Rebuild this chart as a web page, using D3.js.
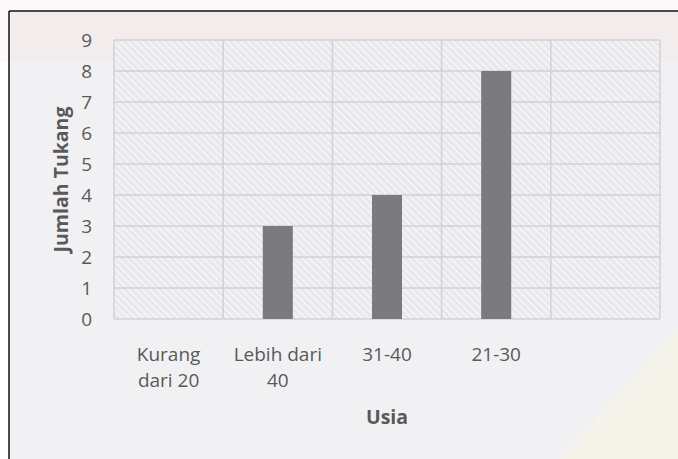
<!DOCTYPE html>
<html>
<head>
<meta charset="utf-8">
<script src="https://cdn.jsdelivr.net/npm/d3@7"></script>
<style>
  body { margin: 0; background: #fff; }
  text { font-family: "Open Sans", "Liberation Sans", sans-serif; }
</style>
</head>
<body>
<div id="chart"></div>
<script>
// data
const categories = ["Kurang dari 20", "Lebih dari 40", "31-40", "21-30", ""];
const labelLines = [["Kurang", "dari 20"], ["Lebih dari", "40"], ["31-40"], ["21-30"], []];
const values = [0, 3, 4, 8, null];
const yTicks = [0, 1, 2, 3, 4, 5, 6, 7, 8, 9];

const width = 678, height = 459;
const plot = { left: 114, top: 40, right: 660, bottom: 319 };

const svg = d3.select("#chart").append("svg")
    .attr("width", width)
    .attr("height", height);

// hatch pattern for the plot area
const defs = svg.append("defs");
const pat = defs.append("pattern")
    .attr("id", "hatch")
    .attr("patternUnits", "userSpaceOnUse")
    .attr("width", 5).attr("height", 5)
    .attr("patternTransform", "rotate(-45)");
pat.append("rect").attr("width", 5).attr("height", 5).attr("fill", "#e8e8ec");
pat.append("rect").attr("width", 2.2).attr("height", 5).attr("fill", "#f4f4f6");

// chart area background + faint watermark tint
svg.append("rect").attr("x", 9).attr("y", 11).attr("width", width).attr("height", height)
    .attr("fill", "#f1f1f3");
svg.append("rect").attr("x", 0).attr("y", 0).attr("width", width).attr("height", 62)
    .attr("fill", "#f7d0d0").attr("opacity", 0.15);
svg.append("path")
    .attr("d", "M560,459 L678,330 L678,459 Z")
    .attr("fill", "#fbf6e0").attr("opacity", 0.45);

// border (only top and left visible)
svg.append("line").attr("x1", 9).attr("x2", width).attr("y1", 11).attr("y2", 11)
    .attr("stroke", "#111").attr("stroke-width", 1.5);
svg.append("line").attr("x1", 9).attr("x2", 9).attr("y1", 11).attr("y2", height)
    .attr("stroke", "#111").attr("stroke-width", 1.5);

const x = d3.scaleBand()
    .domain(categories.map((c, i) => i))
    .range([plot.left, plot.right])
    .paddingInner(0).paddingOuter(0);

const y = d3.scaleLinear()
    .domain([0, 9])
    .range([plot.bottom, plot.top]);

// plot area
svg.append("rect")
    .attr("x", plot.left).attr("y", plot.top)
    .attr("width", plot.right - plot.left).attr("height", plot.bottom - plot.top)
    .attr("fill", "url(#hatch)");

// horizontal gridlines
svg.append("g").selectAll("line")
    .data(yTicks)
    .join("line")
    .attr("x1", plot.left).attr("x2", plot.right)
    .attr("y1", d => y(d)).attr("y2", d => y(d))
    .attr("stroke", "#d2d2d6").attr("stroke-width", 1.5);

// vertical gridlines at category boundaries
const bounds = categories.map((c, i) => x(i)).concat([plot.right]);
svg.append("g").selectAll("line")
    .data(bounds)
    .join("line")
    .attr("x1", d => d).attr("x2", d => d)
    .attr("y1", plot.top).attr("y2", plot.bottom)
    .attr("stroke", "#d2d2d6").attr("stroke-width", 1.5);

// bars
const barW = x.bandwidth() * 0.275;
svg.append("g").selectAll("rect")
    .data(values.map((v, i) => ({ v, i })).filter(d => d.v))
    .join("rect")
    .attr("x", d => x(d.i) + x.bandwidth() / 2 - barW / 2)
    .attr("y", d => y(d.v))
    .attr("width", barW)
    .attr("height", d => y(0) - y(d.v))
    .attr("fill", "#7b7b7d");

// y tick labels
svg.append("g").selectAll("text")
    .data(yTicks)
    .join("text")
    .attr("x", 92)
    .attr("y", d => y(d))
    .attr("dy", "0.36em")
    .attr("text-anchor", "end")
    .attr("font-size", 19)
    .attr("fill", "#595959")
    .text(d => d);

// x tick labels
const xl = svg.append("g").selectAll("text")
    .data(labelLines)
    .join("text")
    .attr("text-anchor", "middle")
    .attr("font-size", 19)
    .attr("fill", "#595959");
xl.selectAll("tspan")
    .data((d, i) => d.map(t => ({ t, i })))
    .join("tspan")
    .attr("x", d => x(d.i) + x.bandwidth() / 2)
    .attr("y", (d, j) => 361 + j * 26)
    .text(d => d.t);

// axis titles
svg.append("text")
    .attr("transform", `translate(68, ${(plot.top + plot.bottom) / 2}) rotate(-90)`)
    .attr("text-anchor", "middle")
    .attr("font-size", 19.5)
    .attr("font-weight", "bold")
    .attr("fill", "#595959")
    .text("Jumlah Tukang");

svg.append("text")
    .attr("x", (plot.left + plot.right) / 2)
    .attr("y", 424)
    .attr("text-anchor", "middle")
    .attr("font-size", 19.5)
    .attr("font-weight", "bold")
    .attr("fill", "#595959")
    .text("Usia");
</script>
</body>
</html>
